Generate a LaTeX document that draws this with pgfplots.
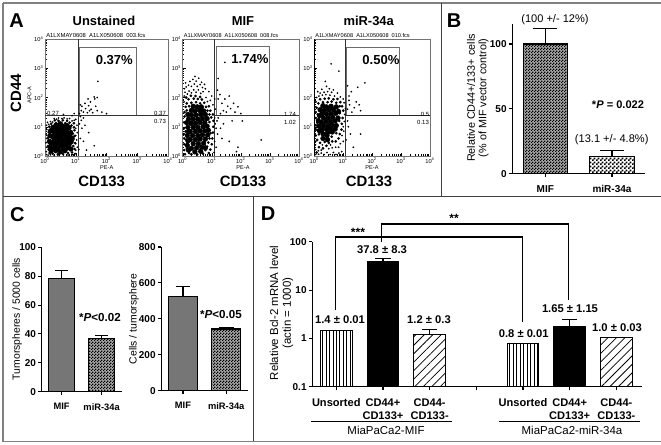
\documentclass[border=0pt]{standalone}
\usepackage{fontspec}
\setmainfont{Liberation Sans}
\usepackage{pgfplots}
\pgfplotsset{compat=1.18}
\usetikzlibrary{patterns,patterns.meta}
\newcommand\fs[1]{\fontsize{#1}{#1}\selectfont}
\pgfdeclarepatternformonly{chkA}{\pgfqpoint{0pt}{0pt}}{\pgfqpoint{3pt}{3pt}}{\pgfqpoint{3pt}{3pt}}{%
 \pgfpathrectangle{\pgfqpoint{0pt}{0pt}}{\pgfqpoint{1.5pt}{1.5pt}}\pgfpathrectangle{\pgfqpoint{1.5pt}{1.5pt}}{\pgfqpoint{1.5pt}{1.5pt}}\pgfusepath{fill}}
\pgfdeclarepatternformonly{chkB}{\pgfqpoint{0pt}{0pt}}{\pgfqpoint{2pt}{2pt}}{\pgfqpoint{2pt}{2pt}}{%
 \pgfpathrectangle{\pgfqpoint{0pt}{0pt}}{\pgfqpoint{1pt}{1pt}}\pgfpathrectangle{\pgfqpoint{1pt}{1pt}}{\pgfqpoint{1pt}{1pt}}\pgfusepath{fill}}
\definecolor{barg}{HTML}{767676}
\pgfplotsset{
 flow/.style={scale only axis,xmin=0,xmax=4,ymin=0,ymax=4,axis line style={draw=black!55,line width=.7pt},
  xtick={0,1,2,3,4},ytick={0,1,2,3,4},xtick pos=bottom,ytick pos=left,tick align=inside,
  major tick length=2.2pt,minor tick length=1.2pt,tick style={black,line width=.3pt},
  minor xtick={.301,.477,.602,.699,.778,.845,.903,.954,1.301,1.477,1.602,1.699,1.778,1.845,1.903,1.954,2.301,2.477,2.602,2.699,2.778,2.845,2.903,2.954,3.301,3.477,3.602,3.699,3.778,3.845,3.903,3.954},
  minor ytick={.301,.477,.602,.699,.778,.845,.903,.954,1.301,1.477,1.602,1.699,1.778,1.845,1.903,1.954,2.301,2.477,2.602,2.699,2.778,2.845,2.903,2.954,3.301,3.477,3.602,3.699,3.778,3.845,3.903,3.954},
  xticklabels={10\textsuperscript{0},10\textsuperscript{1},10\textsuperscript{2},10\textsuperscript{3},10\textsuperscript{4}},
  yticklabels={10\textsuperscript{0},10\textsuperscript{1},10\textsuperscript{2},10\textsuperscript{3},10\textsuperscript{4}},
  xticklabel style={font=\fs{4.3},inner sep=0pt,yshift=-1pt},yticklabel style={font=\fs{4.3},inner sep=0pt,xshift=-1pt},
  clip=false},
 core/.style={only marks,mark=*,mark size=1.75pt,black,mark options={draw=none,fill=black}},
 mid/.style={only marks,mark=*,mark size=.8pt,black,mark options={draw=none,fill=black}},
 dots/.style={only marks,mark=*,mark size=.42pt,black,mark options={draw=none,fill=black!85}},
 bars/.style={scale only axis,axis lines=left,axis line style={-,line width=.9pt},ybar,bar shift=0pt,
  tick style={black,line width=.8pt},tick align=outside,major tick length=2.6pt,
  ytick style={black},xtick pos=bottom,ytick pos=left,enlargelimits=false,
  yticklabel style={font=\bfseries\fs{7.5},inner sep=0pt,xshift=-1.5pt},
  xticklabel style={font=\bfseries\fs{7.5},inner sep=0pt,yshift=-6pt},clip=false},
 bb/.style={draw=black,line width=.9pt},
 errs/.style={error bars/.cd,y dir=plus,y explicit,error bar style={black,line width=.9pt},
  error mark options={rotate=90,black,line width=.9pt,mark size=#1}},
}
\begin{document}
\begin{tikzpicture}[x=.75pt,y=-.75pt]
\useasboundingbox (0,0) rectangle (661,445);
\fill[white] (0,0) rectangle (661,445);
% frame
\draw[black!50,line width=1pt] (3,3) -- (661,3);
\draw[black!50,line width=1pt] (3,3) -- (3,441.5) -- (661,441.5);
\draw[black!75,line width=.8pt] (3,196.5) -- (661,196.5);
\draw[black!75,line width=.8pt] (441.3,3) -- (441.3,196.5);
\draw[black!75,line width=.8pt] (253.3,196.5) -- (253.3,441.5);

%% PANEL A1
\begin{axis}[flow,at={(45*.75pt,-156*.75pt)},anchor=south west,width=123*.75pt,height=117*.75pt]
\addplot[core] coordinates {(.35,.18)(.5,.14)(.65,.18)(.28,.26)(.42,.24)(.58,.26)(.72,.28)(.34,.36)(.5,.36)(.64,.36)(.78,.38)(.26,.46)(.4,.46)(.55,.46)(.7,.46)(.85,.48)(.3,.56)(.46,.56)(.6,.56)(.76,.56)(.24,.66)(.38,.66)(.52,.66)(.68,.66)(.82,.66)(.32,.76)(.46,.76)(.6,.76)(.74,.76)(.28,.86)(.42,.86)(.56,.86)(.7,.86)(.34,.94)(.48,.94)(.62,.94)(.44,1.02)(.58,1.02)(.16,.3)(.14,.5)(.16,.7)(.2,.42)(.18,.86)(.26,.98)(.84,.24)(.88,.6)(.84,.8)(.78,.96)(.72,1.04)(.36,1.06)(.5,1.1)(.2,.18)};
\addplot[mid] coordinates {(.15,.1)(.25,.08)(.42,.06)(.58,.08)(.75,.1)(.88,.12)(.12,.22)(.84,.22)(.96,.24)(.1,.34)(.2,.32)(.92,.34)(.14,.44)(.98,.44)(.16,.54)(.92,.56)(.1,.62)(.96,.68)(.16,.72)(.9,.76)(.12,.82)(.84,.84)(.96,.88)(.18,.9)(.8,.94)(.94,.98)(.14,1.0)(.28,1.02)(.72,1.04)(.86,1.04)(.2,1.1)(.36,1.12)(.5,1.12)(.66,1.12)(.8,1.14)(.94,1.12)(.44,1.2)(.58,1.22)(.32,1.22)(.72,1.2)};
\addplot[dots] coordinates {(.05,.05)(.1,.03)(.18,.04)(.3,.02)(.42,.03)(.6,.04)(.75,.03)(.9,.05)(1.0,.08)(.04,.15)(.05,.3)(.03,.45)(.05,.6)(.04,.75)(.06,.9)(.05,1.05)(.08,1.15)(.12,1.08)(.18,1.18)(.25,1.16)(.3,1.28)(.38,1.26)(.44,1.3)(.55,1.28)(.62,1.3)(.72,1.27)(.8,1.28)(.88,1.2)(.95,1.22)(1.0,1.25)(1.04,1.05)(1.0,.95)(1.05,.8)(1.0,.7)(1.03,.55)(1.0,.42)(1.05,.3)(1.0,.2)(1.1,.22)(1.15,.6)(1.2,.95)(1.12,1.1)(1.18,1.22)(1.25,1.3)(1.3,1.05)(1.42,.8)(1.6,.35)(1.25,.5)(1.15,1.35)(.97,.08)(1.35,.2)
(1.12,1.45)(1.18,1.55)(1.25,1.5)(1.32,1.62)(1.2,1.7)(1.38,1.48)(1.45,1.55)(1.15,1.75)(1.3,1.8)(1.42,1.72)(1.5,1.6)(1.62,1.95)(1.48,1.85)(1.55,1.48)(1.4,1.95)(1.6,2.02)(1.65,1.7)(1.7,1.55)(1.85,1.5)(1.7,2.0)(1.72,2.55)(2.0,1.45)(.95,1.45)(.88,1.38)(.6,1.42)};
\addplot[gray!85!black,line width=.75pt,mark=none] coordinates {(1.11,1.39)(1.11,3.72)(2.96,3.72)(2.96,1.39)(1.11,1.39)};
\addplot[black!80,line width=.75pt,mark=none] coordinates {(1.09,0)(1.09,4)};
\addplot[black!80,line width=.75pt,mark=none] coordinates {(0,1.39)(4,1.39)};
\end{axis}

%% PANEL A2
\begin{axis}[flow,at={(182.7*.75pt,-156*.75pt)},anchor=south west,width=116.3*.75pt,height=117*.75pt]
\addplot[core] coordinates {(.3,.26)(.48,.28)(.65,.3)(.36,.42)(.54,.42)(.72,.44)(.26,.56)(.44,.56)(.6,.58)(.78,.58)(.34,.7)(.52,.7)(.68,.72)(.26,.84)(.44,.84)(.6,.86)(.76,.86)(.18,.98)(.36,.98)(.52,.98)(.7,1.0)(.28,1.12)(.44,1.12)(.6,1.14)(.76,1.14)(.2,1.26)(.36,1.26)(.52,1.26)(.68,1.28)(.84,1.28)(.3,1.4)(.46,1.4)(.62,1.42)(.78,1.42)(.42,1.54)(.58,1.56)(.72,1.54)(.16,.36)(.18,.52)(.16,.7)(.2,.84)(.86,.72)(.84,1.02)(.88,.88)(.14,1.14)(.18,1.42)(.3,1.56)(.5,1.68)(.64,1.68)(.36,1.7)(.2,.2)(.42,.14)(.62,.16)(.78,.28)};
\addplot[mid] coordinates {(.08,.06)(.22,.1)(.3,.06)(.4,.12)(.5,.05)(.6,.14)(.7,.08)(.78,.2)(.9,.1)(.05,.2)(.14,.24)(.84,.32)(.95,.22)(.05,.4)(.16,.42)(.88,.46)(1.0,.4)(.05,.6)(.12,.56)(.92,.6)(1.02,.6)(.04,.75)(.14,.72)(.84,.74)(.96,.78)(1.04,.8)(.05,.95)(.1,.84)(.9,.9)(1.05,1.0)(.86,1.02)(.05,1.15)(.12,1.14)(.92,1.16)(1.06,1.2)(.06,1.35)(.98,1.32)(.14,1.4)(.92,1.42)(1.04,1.42)(.06,1.5)(.14,1.56)(.26,1.54)(.85,1.55)(.95,1.55)(.1,1.68)(.22,1.7)(.36,1.66)(.52,1.68)(.66,1.66)(.8,1.68)(.9,1.7)(.14,1.8)(.3,1.82)(.46,1.84)(.6,1.8)(.74,1.82)(.2,1.94)(.38,1.96)(.52,1.95)(.66,1.93)(.28,2.06)(.44,2.05)(.6,2.02)(.12,2.0)};
\addplot[dots] coordinates {(.05,1.85)(.05,2.05)(.08,2.18)(.16,2.12)(.22,2.22)(.3,2.16)(.38,2.26)(.46,2.18)(.54,2.26)(.62,2.14)(.7,2.2)(.8,2.0)(.85,1.86)(.95,1.9)(.06,2.3)(.12,2.36)(.2,2.42)(.3,2.38)(.4,2.46)(.5,2.38)(.6,2.44)(.68,2.34)(.78,2.3)(.1,2.5)(.25,2.55)(.35,2.62)(.46,2.56)(.55,2.66)(.65,2.52)(.75,2.45)(.42,2.72)(.9,2.2)(1.0,2.05)(1.1,1.95)(1.04,1.75)(1.12,1.6)(1.1,1.3)(1.18,1.2)(1.12,1.1)(1.22,1.3)(1.15,.95)(1.2,.75)(1.1,.5)(1.15,.3)(1.08,.12)(1.3,1.45)(1.4,1.55)(1.55,1.7)(1.35,1.8)(1.22,1.95)(1.45,1.95)(1.2,2.25)(1.28,2.1)(1.5,1.5)(1.65,1.62)(1.75,1.8)(1.6,2.05)(1.8,1.5)(1.9,1.68)(1.22,2.65)(1.45,3.2)(1.7,1.2)(1.35,.6)(1.85,.15)(2.7,.55)(1.6,.5)(1.9,.3)(1.3,.95)(2.0,1.45)(2.05,1.2)(1.4,1.1)};
\addplot[gray!85!black,line width=.75pt,mark=none] coordinates {(1.17,1.38)(1.17,3.74)(3.0,3.74)(3.0,1.38)(1.17,1.38)};
\addplot[black!80,line width=.75pt,mark=none] coordinates {(1.077,0)(1.077,4)};
\addplot[black!80,line width=.75pt,mark=none] coordinates {(1.077,1.38)(4,1.38)};
\end{axis}

%% PANEL A3
\begin{axis}[flow,at={(314.3*.75pt,-156*.75pt)},anchor=south west,width=115.7*.75pt,height=117*.75pt]
\addplot[core] coordinates {(.44,.7)(.3,.76)(.46,.8)(.62,.82)(.26,.9)(.42,.92)(.56,.94)(.32,1.04)(.48,1.04)(.62,1.06)(.24,1.16)(.4,1.18)(.56,1.18)(.72,1.2)(.32,1.3)(.48,1.3)(.64,1.32)(.26,1.44)(.42,1.44)(.58,1.44)(.74,1.46)(.34,1.56)(.5,1.58)(.66,1.58)(.42,1.68)(.58,1.7)(.16,1.02)(.14,1.2)(.18,1.38)(.2,1.58)(.76,1.04)(.82,1.3)(.84,1.52)(.76,1.68)(.3,1.72)(.18,.86)(.72,.92)(.3,.6)(.46,.56)};
\addplot[mid] coordinates {(.08,.12)(.16,.3)(.3,.26)(.42,.35)(.2,.45)(.36,.48)(.5,.45)(.62,.5)(.74,.5)(.1,.55)(.3,.62)(.44,.58)(.6,.66)(.84,.6)(.16,.74)(.76,.78)(.88,.75)(.12,.88)(.72,.94)(.94,.9)(.05,.7)(.06,.9)(.05,1.05)(.16,1.02)(.78,1.06)(.95,1.1)(.1,1.14)(.86,1.2)(.05,1.3)(.16,1.28)(.8,1.32)(.98,1.3)(.05,1.5)(.12,1.42)(.88,1.46)(1.0,1.55)(.18,1.56)(.82,1.58)(.08,1.65)(.26,1.7)(.74,1.7)(.88,1.7)(.96,1.7)(.14,1.8)(.3,1.84)(.46,1.84)(.6,1.86)(.76,1.82)(.9,1.84)(.2,1.94)(.36,1.96)(.5,1.97)(.66,1.94)(.8,1.95)};
\addplot[dots] coordinates {(.05,.05)(.15,.06)(.24,.1)(.34,.05)(.44,.12)(.55,.05)(.66,.12)(.75,.05)(.85,.1)(.95,.15)(.05,.22)(.14,.18)(.24,.2)(.5,.25)(.62,.28)(.74,.3)(.84,.3)(.04,.38)(.28,.38)(.56,.38)(.9,.42)(1.0,.5)(.05,.5)(.96,.7)(1.02,.85)(1.0,1.0)(1.04,1.18)(1.05,1.42)(1.08,1.62)(1.03,1.82)(1.0,1.95)(.9,2.02)(.06,1.85)(.08,2.0)(.16,2.05)(.28,2.08)(.4,2.1)(.54,2.08)(.7,2.05)(.2,2.15)(.34,2.18)(.46,2.2)(.6,2.18)(.12,2.2)(.26,2.28)(.42,2.38)(.52,2.3)(.66,2.26)(.8,2.15)(.38,2.55)(.85,2.9)(.58,3.15)(1.15,1.6)(1.22,1.75)(1.3,1.5)(1.2,1.9)(1.38,1.65)(1.45,1.85)(1.55,1.75)(1.6,1.55)(1.2,2.05)(1.28,2.2)(1.5,2.35)(1.15,2.4)(1.75,2.5)(1.15,1.2)(1.25,.75)(1.35,.3)(1.6,.75)(1.1,.55)(1.18,1.0)};
\addplot[gray!85!black,line width=.75pt,mark=none] coordinates {(1.12,1.37)(1.12,3.72)(2.96,3.72)(2.96,1.37)(1.12,1.37)};
\addplot[black!80,line width=.75pt,mark=none] coordinates {(1.086,0)(1.086,4)};
\addplot[black!85,line width=.75pt,mark=none] coordinates {(1.086,1.37)(4,1.37)};
\addplot[black,line width=.8pt,mark=none] coordinates {(0,0)(0,4)};
\end{axis}

%% PANEL B
\begin{axis}[bars,at={(512.3*.75pt,-173.7*.75pt)},anchor=south west,width=132.7*.75pt,height=149.4*.75pt,
 xmin=.505,xmax=2.495,ymin=0,ymax=115.2,xtick={1,2},xticklabels={MIF,miR-34a},ytick={0,50,100},yticklabels={0,50,100},bar width=.665]
\addplot[bb,fill=gray!70,postaction={pattern=chkB},errs=9pt] coordinates {(1,100) +- (0,12)};
\addplot[bb,fill=white,postaction={pattern=chkA},errs=9pt] coordinates {(2,13.1) +- (0,4.6)};
\end{axis}

%% PANEL C1
\begin{axis}[bars,at={(41.7*.75pt,-391.7*.75pt)},anchor=south west,width=80*.75pt,height=144.4*.75pt,
 xmin=.505,xmax=2.5,ymin=0,ymax=100,xtick={1,2},xticklabels={MIF,miR-34a},ytick={0,20,40,60,80,100},yticklabels={0,20,40,60,80,100},bar width=.66,
 xticklabel style={font=\bfseries\fs{7},inner sep=0pt,yshift=0pt}]
\addplot[bb,fill=barg,errs=5pt] coordinates {(1,78.5) +- (0,5.3)};
\addplot[bb,fill=gray!70,postaction={pattern=chkB},errs=5pt] coordinates {(2,37) +- (0,1.9)};
\end{axis}

%% PANEL C2
\begin{axis}[bars,at={(161.3*.75pt,-390.7*.75pt)},anchor=south west,width=87*.75pt,height=143.7*.75pt,
 xmin=.498,xmax=2.51,ymin=0,ymax=800,xtick={1,2},xticklabels={MIF,miR-34a},ytick={0,200,400,600,800},yticklabels={0,200,400,600,800},bar width=.67,
 xticklabel style={font=\bfseries\fs{7},inner sep=0pt,yshift=0pt}]
\addplot[bb,fill=barg,errs=5.5pt] coordinates {(1,525) +- (0,54)};
\addplot[bb,fill=gray!70,postaction={pattern=chkB},errs=5.5pt] coordinates {(2,343) +- (0,10)};
\end{axis}

%% PANEL D
\begin{axis}[bars,at={(312.3*.75pt,-386.7*.75pt)},anchor=south west,width=329.4*.75pt,height=145*.75pt,
 ymode=log,log basis y=10,xmin=.486,xmax=7.543,ymin=.1,ymax=100,xtick={1,2,3,4,5,6,7},
 xticklabels={Unsorted,{CD44+\\CD133+},{CD44-\\CD133-},{},Unsorted,{CD44+\\CD133+},{CD44-\\CD133-}},
 ytick={.1,1,10,100},yticklabels={0.1,1,10,100},minor ytick={},log origin=infty,bar width=.68,
 xticklabel style={font=\bfseries\fontsize{8.3}{9.9}\selectfont,align=center,inner sep=0pt,yshift=0pt}]
\addplot[bb,fill=white,postaction={pattern={Lines[angle=90,distance=2.6pt,line width=.45pt]}}] coordinates {(1,1.44)};
\addplot[bb,fill=black,errs=5.75pt] coordinates {(2,38.6) +- (0,5.9)};
\addplot[bb,fill=white,postaction={pattern={Lines[angle=45,distance=4.5pt,line width=.6pt]}},errs=5.75pt] coordinates {(3,1.21) +- (0,.32)};
\addplot[bb,fill=white,postaction={pattern={Lines[angle=90,distance=2.6pt,line width=.45pt]}}] coordinates {(5,.776)};
\addplot[bb,fill=black,errs=5.75pt] coordinates {(6,1.72) +- (0,.78)};
\addplot[bb,fill=white,postaction={pattern={Lines[angle=45,distance=4.5pt,line width=.6pt]}}] coordinates {(7,1.05)};
\end{axis}

% brackets
\draw[black,line width=.8pt] (335.3,310) -- (335.3,237) -- (522.3,237) -- (522.3,322);
\draw[black,line width=.8pt] (381.3,241.7) -- (381.3,224) -- (568.3,224) -- (568.3,300);
% underlines in D
\draw[black,line width=.7pt] (311,421) -- (452,421);
\draw[black,line width=.7pt] (499,421) -- (640,421);

\tikzset{every node/.style={inner sep=0pt}}
% panel letters
\node[font=\bfseries\fs{15}] at (16.7,20.7) {A};
\node[font=\bfseries\fs{15}] at (454,21) {B};
\node[font=\bfseries\fs{15}] at (17.3,215) {C};
\node[font=\bfseries\fs{15}] at (268,214) {D};
% A titles
\node[font=\bfseries\fs{9.7}] at (104,20.7) {Unstained};
\node[font=\bfseries\fs{9.7}] at (243,20.7) {MIF};
\node[font=\bfseries\fs{9.7}] at (368.7,20.7) {miR-34a};
\node[font=\bfseries\fs{11.2}] at (101.7,181.7) {CD133};
\node[font=\bfseries\fs{11.2}] at (243,181.7) {CD133};
\node[font=\bfseries\fs{11.2}] at (369,181.7) {CD133};
\node[font=\bfseries\fs{11.2},rotate=90] at (16,93.3) {CD44};
\node[font=\bfseries\fs{9.8}] at (114.3,60) {0.37\%};
\node[font=\bfseries\fs{9.8}] at (250,59.3) {1.74\%};
\node[font=\bfseries\fs{9.8}] at (381,60) {0.50\%};
% A small
\node[font=\fs{4.4},anchor=west] at (46,35.5) {A1LXMAY0608 \ A1LX050608 \ 003.fcs};
\node[font=\fs{4.2},anchor=west] at (183.5,35.5) {A1LXMAY0608 \ A1LX050608 \ 008.fcs};
\node[font=\fs{4.2},anchor=west] at (315,35.5) {A1LXMAY0608 \ A1LX050608 \ 010.fcs};
\node[font=\fs{4.2},rotate=90] at (29.5,95) {APC-A};
\node[font=\fs{4.2}] at (106.7,168) {PE-A};
\node[font=\fs{4.2}] at (243,168) {PE-A};
\node[font=\fs{4.2}] at (372,168) {PE-A};
\node[font=\fs{4.5}] at (53,113) {0.27};
\node[font=\fs{4.5}] at (160,113) {0.37};
\node[font=\fs{4.5}] at (160,121.7) {0.73};
\node[font=\fs{4.5}] at (290,114) {1.74};
\node[font=\fs{4.5}] at (290,122) {1.02};
\node[font=\fs{4.5}] at (425,114) {0.5};
\node[font=\fs{4.5}] at (423,122) {0.13};
% B text
\node[font=\fs{8.3}] at (555,19.3) {(100 +/- 12\%)};
\node[font=\fs{8.3}] at (611.7,140) {(13.1 +/- 4.8\%)};
\node[font=\bfseries\fs{8.3}] at (618,105) {*\textit{P} = 0.022};
\node[font=\fs{8.1},rotate=90] at (471,98) {Relative CD44+/133+ cells};
\node[font=\fs{8.1},rotate=90] at (483.7,98) {(\% of MIF vector control)};
% C text
\node[font=\fs{7.8},rotate=90] at (17.3,319) {Tumorspheres / 5000 cells};
\node[font=\fs{7.8},rotate=90] at (134,319) {Cells / tumorsphere};
\node[font=\bfseries\fs{8.7}] at (100,317.7) {*\textit{P}<0.02};
\node[font=\bfseries\fs{8.7}] at (221,315) {*\textit{P}<0.05};
% D text
\node[font=\fs{8.6},rotate=90] at (274,313) {Relative Bcl-2 mRNA level};
\node[font=\fs{8.6},rotate=90] at (288,313) {(actin = 1000)};
\node[font=\bfseries\fs{8.4}] at (340,320) {1.4 ± 0.01};
\node[font=\bfseries\fs{8.4}] at (382,250) {37.8 ± 8.3};
\node[font=\bfseries\fs{8.4}] at (429,320) {1.2 ± 0.3};
\node[font=\bfseries\fs{8.4}] at (523.7,334) {0.8 ± 0.01};
\node[font=\bfseries\fs{8.4}] at (570,309) {1.65 ± 1.15};
\node[font=\bfseries\fs{8.4}] at (617,328) {1.0 ± 0.03};
\node[font=\bfseries\fs{9}] at (358,232) {***};
\node[font=\bfseries\fs{9}] at (454,218) {**};
\node[font=\fs{8.6}] at (386,430.5) {MiaPaCa2-MIF};
\node[font=\fs{8.6}] at (572,430.5) {MiaPaCa2-miR-34a};
\end{tikzpicture}
\end{document}
